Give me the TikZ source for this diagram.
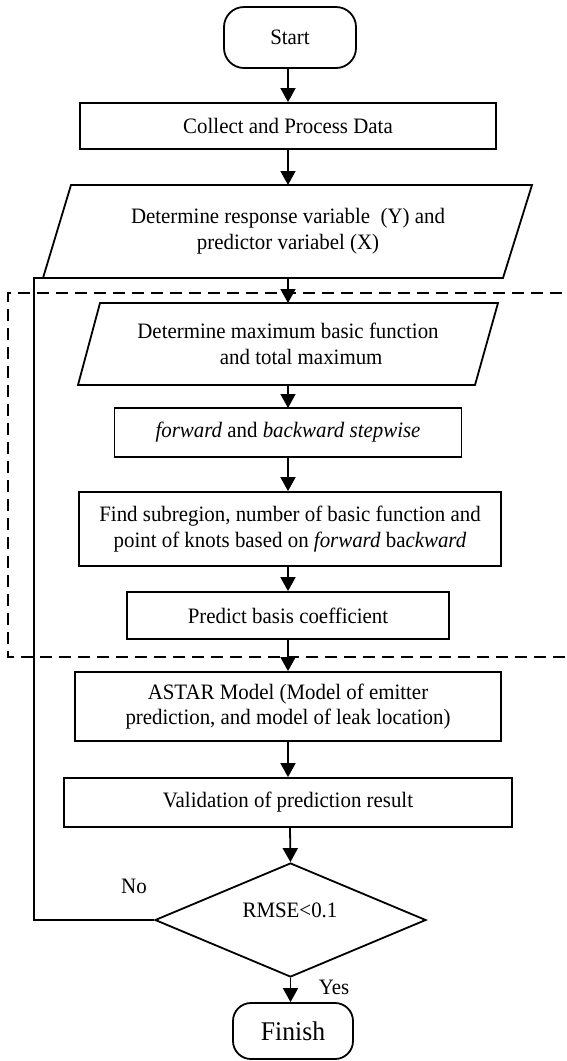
\documentclass[tikz,border=0pt]{standalone}
\usepackage{fontspec}
\setmainfont{Liberation Serif}[FakeStretch=0.95]
\usetikzlibrary{arrows.meta,shapes.geometric}
\newcommand\myfs{\fontsize{22}{25.5}\selectfont}
\begin{document}
\begin{tikzpicture}[x=1pt,y=-1pt,line width=1.8pt,font=\myfs,
  box/.style 2 args={draw,rectangle,minimum width=#1,minimum height=#2,inner sep=0pt,align=center},
  term/.style 2 args={draw,rectangle,rounded corners=20pt,minimum width=#1,minimum height=#2,inner sep=0pt,align=center},
  txt/.style={inner sep=0pt,align=center},
  flow/.style={-{Triangle[width=15pt,length=14pt]}},
  dashbox/.style={dash pattern=on 12pt off 7pt,line width=2pt}]
\useasboundingbox (0,0) rectangle (566,1061);
% nodes
\node[term={132pt}{61pt}] (start) at (290,37.5) {Start};
\node[box={416pt}{46pt}] (collect) at (288,126) {Collect and Process Data};
% parallelogram 1
\draw (71,185) coordinate (p1tl) -- (532,185) -- (503,278) -- (43,278) coordinate (p1bl) -- cycle;
\node[txt,minimum height=94pt] (det) at (288,231) {Determine response variable\ \ (Y) and\\predictor variabel (X)};
% parallelogram 2
\draw (100,303) -- (498,303) -- (475,385) -- (78,385) -- cycle;
\node[txt,minimum height=82pt] (max) at (288,344) {Determine maximum basic function\\\hspace*{1.2em}and total maximum};
\node[box={347pt}{49pt}] (fwd) at (288,432.5) {\textit{forward} and \textit{backward stepwise}};
\node[box={422pt}{74pt}] (find) at (290,529) {Find subregion, number of basic function and\\point of knots based on \textit{forward} ba\textit{ckward}};
\node[box={322pt}{47pt}] (pred) at (288,615.5) {Predict basis coefficient};
\node[box={426pt}{69pt}] (astar) at (288,706.5) {ASTAR Model (Model of emitter\\prediction, and model of leak location)};
\node[box={448pt}{49pt}] (valid) at (288,802.5) {Validation of prediction result};
\node[draw,diamond,minimum width=271pt,minimum height=114pt,inner sep=0pt] (dec) at (290.5,920) {};
\node[txt] (rmse) at (290,910) {RMSE<0.1};
\node[term={120pt}{56pt},font=\fontsize{27}{30}\selectfont,rounded corners=18pt] (finish) at (293,1031) {Finish};
\node[txt] (no) at (134,886) {No};
\node[txt] (yes) at (334,987) {Yes};
% dashed region
\begin{scope}
\clip (0,0) rectangle (566,1061);
\draw[dashbox] (600,293) -- (8,293) -- (8,657) -- (600,657);
\end{scope}
% connectors
\draw[flow] (start.south -| 288,0) -- (collect.north -| 288,0);
\draw[flow] (collect.south -| 288,0) -- (288,185);
\draw[flow] (288,278) -- (288,303);
\draw[flow] (288,385) -- (288,408);
\draw[flow] (288,457) -- (find.north -| 288,0);
\draw[flow] (find.south -| 288,0) -- (pred.north -| 288,0);
\draw[flow] (pred.south) -- (astar.north);
\draw[flow] (astar.south) -- (valid.north);
\draw[flow] (valid.south -| 290,0) -- (dec.north);
\draw[flow] (dec.south) -- (dec.south |- finish.north);
\draw (dec.west) -- (34,920) -- (34,278) -- (p1bl);
\end{tikzpicture}
\end{document}
